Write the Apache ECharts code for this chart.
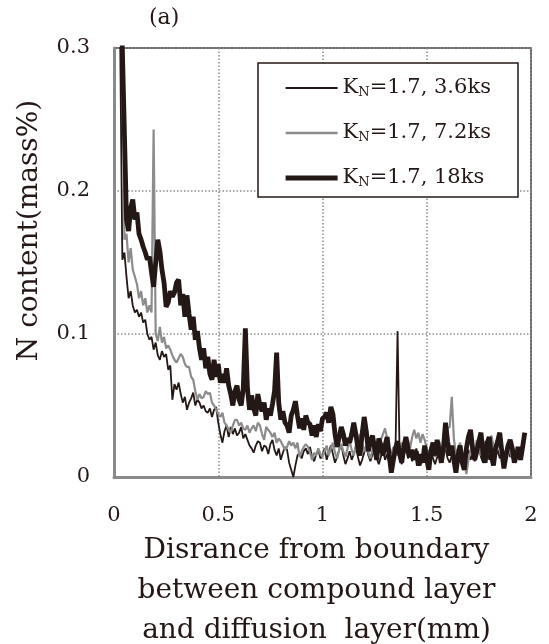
<!DOCTYPE html>
<html><head><meta charset="utf-8">
<script src="https://cdn.jsdelivr.net/npm/echarts@6/dist/echarts.min.js"></script>
<style>html,body{margin:0;padding:0;background:#fff}#c{width:549px;height:644px}</style>
</head><body><div id="c"></div><script>
const FONT = 'DejaVu Serif';
const distance = [
0.01,0.02,0.03,0.04,0.05,0.06,0.07,0.08,0.09,0.10,
0.11,0.12,0.13,0.14,0.15,0.16,0.17,0.18,0.19,0.20,
0.21,0.22,0.23,0.24,0.25,0.26,0.27,0.28,0.29,0.30,
0.31,0.32,0.33,0.34,0.35,0.36,0.37,0.38,0.39,0.40,
0.41,0.42,0.43,0.44,0.45,0.46,0.47,0.48,0.49,0.50,
0.51,0.52,0.53,0.54,0.55,0.56,0.57,0.58,0.59,0.60,
0.61,0.62,0.63,0.64,0.65,0.66,0.67,0.68,0.69,0.70,
0.71,0.72,0.73,0.74,0.75,0.76,0.77,0.78,0.79,0.80,
0.81,0.82,0.83,0.84,0.85,0.86,0.87,0.88,0.89,0.90,
0.91,0.92,0.93,0.94,0.95,0.96,0.97,0.98,0.99,1.00,
1.01,1.02,1.03,1.04,1.05,1.06,1.07,1.08,1.09,1.10,
1.11,1.12,1.13,1.14,1.15,1.16,1.17,1.18,1.19,1.20,
1.21,1.22,1.23,1.24,1.25,1.26,1.27,1.28,1.29,1.30,
1.31,1.32,1.33,1.34,1.35,1.36,1.37,1.38,1.39,1.40,
1.41,1.42,1.43,1.44,1.45,1.46,1.47,1.48,1.49,1.50,
1.51,1.52,1.53,1.54,1.55,1.56,1.57,1.58,1.59,1.60,
1.61,1.62,1.63,1.64,1.65,1.66,1.67,1.68,1.69,1.70,
1.71,1.72,1.73,1.74,1.75,1.76,1.77,1.78,1.79,1.80,
1.81,1.82,1.83,1.84,1.85,1.86,1.87,1.88,1.89,1.90,
1.91,1.92,1.93,1.94,1.95,1.96,1.97,1.98,1.99,2.00
];
// K_N=1.7, 3.6ks (thin black)
const n36ks = [
null,0.36,0.30,0.152,0.157,0.14,0.125,0.13,0.12,0.115,
0.117,0.112,0.115,0.108,0.11,0.1,0.096,0.098,0.089,0.094,
0.085,0.082,0.088,0.084,0.086,0.075,0.078,0.054,0.065,0.061,
0.066,0.058,0.052,0.056,0.047,0.052,0.055,0.059,0.05,0.054,
0.052,0.048,0.05,0.046,0.045,0.048,0.042,0.047,0.049,0.038,
0.03,0.024,0.032,0.036,0.028,0.035,0.03,0.034,0.029,0.031,
0.035,0.027,0.03,0.026,0.022,0.02,0.017,0.022,0.025,0.024,
0.018,0.022,0.021,0.016,0.023,0.026,0.019,0.015,0.02,0.012,
0.017,0.021,0.019,0.01,0.005,0.0,0.008,0.015,0.017,0.013,
0.018,0.02,0.016,0.021,0.014,0.011,0.016,0.019,0.013,0.015,
0.02,0.012,0.017,0.022,0.016,0.01,0.014,0.019,0.023,0.015,
0.009,0.013,0.018,0.012,0.016,0.021,0.014,0.008,0.012,0.017,
0.022,0.015,0.011,0.016,0.02,0.013,0.009,0.014,0.019,0.012,
0.016,0.01,0.004,0.012,0.018,0.102,0.014,0.009,0.015,0.02,
0.013,0.017,0.011,0.015,0.02,0.014,0.008,0.012,0.017,0.011,
0.016,0.021,0.013,0.009,0.014,0.019,0.012,0.016,0.02,0.013,
0.01,0.015,0.011,0.006,0.012,0.017,0.013,0.009,0.015,0.019,
0.012,0.016,0.011,0.015,0.02,0.014,0.01,0.015,0.018,0.012,
0.016,0.011,0.014,0.019,0.013,0.017,0.011,0.015,0.02,0.014,
0.018,0.012,0.016,0.02,0.015,0.018,null,null,null,null
];
// K_N=1.7, 7.2ks (gray)
const n72ks = [
null,null,null,0.36,0.166,0.17,0.15,0.16,0.145,0.14,
0.135,0.125,0.13,0.12,0.125,0.115,0.12,0.115,0.243,0.1,
0.095,0.105,0.094,0.098,0.09,0.092,0.089,0.085,0.082,0.08,
0.083,0.086,0.084,0.079,0.077,0.077,0.07,0.068,0.06,0.054,
0.058,0.055,0.056,0.06,0.058,0.059,0.052,0.05,0.047,0.044,
0.042,0.045,0.038,0.036,0.033,0.031,0.036,0.04,0.04,0.036,
0.038,0.034,0.033,0.036,0.031,0.034,0.036,0.032,0.038,0.036,
0.03,0.026,0.035,0.033,0.031,0.028,0.031,0.024,0.027,0.025,
0.022,0.019,0.021,0.025,0.022,0.024,0.02,0.024,0.014,0.018,
0.021,0.023,0.021,0.017,0.012,0.017,0.015,0.02,0.016,0.014,
0.018,0.022,0.015,0.02,0.024,0.017,0.013,0.019,0.023,0.018,
0.014,0.02,0.025,0.019,0.015,0.022,0.026,0.03,0.024,0.018,
0.022,0.017,0.013,0.019,0.024,0.018,0.021,0.026,0.03,0.034,
0.027,0.02,0.016,0.021,0.018,0.015,0.02,0.024,0.019,0.022,
0.026,0.02,0.028,0.033,0.027,0.031,0.024,0.03,0.026,0.02,
0.016,0.022,0.018,0.014,0.02,0.025,0.019,0.015,0.022,0.034,
0.035,0.056,0.027,0.016,0.02,0.024,0.016,0.01,0.002,0.012,
0.018,0.022,0.017,0.026,0.02,0.015,0.021,0.025,0.019,0.023,
0.029,0.022,0.016,0.02,0.024,0.018,0.014,0.019,0.023,0.017,
0.013,0.018,0.021,0.016,0.012,0.017,null,null,null,null
];
// K_N=1.7, 18ks (thick black)
const n18ks = [
null,null,0.36,0.30,0.24,0.18,0.172,0.188,0.194,0.18,
0.185,0.17,0.166,0.161,0.157,0.152,0.154,0.143,0.133,0.15,
0.166,0.158,0.145,0.136,0.119,0.122,0.13,0.126,0.129,0.136,
0.138,0.12,0.128,0.112,0.127,0.114,0.103,0.112,0.096,0.102,
0.09,0.082,0.09,0.076,0.084,0.072,0.068,0.082,0.07,0.079,
0.066,0.072,0.066,0.076,0.064,0.058,0.05,0.06,0.064,0.054,
0.05,0.062,0.104,0.062,0.047,0.057,0.048,0.043,0.058,0.05,
0.046,0.052,0.04,0.048,0.043,0.051,0.06,0.087,0.052,0.04,
0.046,0.038,0.036,0.031,0.043,0.047,0.053,0.043,0.034,0.041,
0.033,0.043,0.038,0.037,0.029,0.036,0.028,0.037,0.032,0.041,
0.042,0.045,0.038,0.049,0.044,0.03,0.021,0.028,0.035,0.03,
0.022,0.027,0.024,0.03,0.038,0.03,0.02,0.015,0.03,0.042,
0.032,0.018,0.025,0.029,0.02,0.012,0.027,0.022,0.015,0.022,
0.028,0.015,0.003,0.012,0.02,0.025,0.016,0.01,0.021,0.028,
0.02,0.014,0.019,0.012,0.018,0.008,0.016,0.01,0.022,0.012,
0.005,0.018,0.024,0.015,0.026,0.018,0.01,0.02,0.038,0.025,
0.015,0.022,0.012,0.003,0.015,0.022,0.01,0.005,0.02,0.028,
0.033,0.02,0.012,0.018,0.025,0.031,0.016,0.01,0.024,0.028,
0.015,0.008,0.02,0.025,0.031,0.018,0.006,0.015,0.022,0.026,
0.02,0.01,0.015,0.021,0.012,0.021,0.031,null,null,null
];
const seriesNames = ['KN=1.7, 3.6ks', 'KN=1.7, 7.2ks', 'KN=1.7, 18ks'];
const seriesValues = [n36ks, n72ks, n18ks];
const seriesColors = ['#231815', '#8c8c8c', '#231815'];
const seriesWidths = [1.8, 2.2, 4.8];
const xTitle = 'Disrance from boundary\nbetween compound layer\nand diffusion  layer(mm)';
const yTitle = 'N content(mass%)';
const panelLabel = '(a)';

const chart = echarts.init(document.getElementById('c'), null, {renderer: 'canvas'});
const pairs = v => distance.map((d, i) => [d, v[i]]);
chart.setOption({
  animation: false,
  backgroundColor: '#fff',
  textStyle: {fontFamily: FONT},
  grid: {left: 114, top: 48, width: 417, height: 429, show: true, containLabel: false,
    outerBoundsMode: 'none',
    borderColor: '#3a3a3a', borderWidth: 1.5, backgroundColor: 'transparent'},
  xAxis: {
    type: 'value', min: 0, max: 2, interval: 0.5,
    axisLine: {show: true, onZero: false, lineStyle: {color: '#8a8a8a', width: 3}},
    axisTick: {show: false},
    axisLabel: {color: '#231815', fontFamily: FONT, fontSize: 21, margin: 28, showMaxLabel: true, showMinLabel: true},
    splitLine: {show: true, lineStyle: {color: '#8c8c8c', width: 1.5, type: [1.5, 2]}},
    name: xTitle, nameLocation: 'middle', nameGap: 51,
    nameTextStyle: {color: '#231815', fontFamily: FONT, fontSize: 28, lineHeight: 40, padding: [0, 12, 0, 0]}
  },
  yAxis: {
    type: 'value', min: 0, max: 0.3, interval: 0.1,
    axisLine: {show: true, onZero: false, lineStyle: {color: '#8a8a8a', width: 3}},
    axisTick: {show: false},
    axisLabel: {color: '#231815', fontFamily: FONT, fontSize: 21, margin: 24},
    splitLine: {show: true, lineStyle: {color: '#8c8c8c', width: 1.5, type: [1.5, 2]}},
    name: yTitle, nameLocation: 'middle', nameGap: 70, nameRotate: 90,
    nameTextStyle: {color: '#231815', fontFamily: FONT, fontSize: 28, padding: [0, 0, 0, 64]}
  },
  legend: {
    left: 278, top: 72, orient: 'vertical', itemWidth: 52, itemHeight: 14, itemGap: 23,
    data: seriesNames.map((n, i) => ({
      name: n,
      itemStyle: {opacity: 0},
      lineStyle: {color: seriesColors[i], width: seriesWidths[i] + 0.4, opacity: 1}
    })),
    formatter: name => '{a|K}{s|N}{a|' + name.slice(2) + '}',
    textStyle: {
      color: '#231815', fontFamily: FONT,
      rich: {
        a: {fontSize: 21, fontFamily: FONT, color: '#231815', lineHeight: 26},
        s: {fontSize: 13, fontFamily: FONT, color: '#231815', lineHeight: 26, padding: [9, 0, 0, 0]}
      }
    }
  },
  graphic: [
    {type: 'rect', z: 3, shape: {x: 258, y: 63, width: 260, height: 134},
     style: {fill: '#fff', stroke: '#231815', lineWidth: 1.5}},
    {type: 'text', left: 149, top: 7, z: 5,
     style: {text: panelLabel, font: '22px "DejaVu Serif"', fill: '#231815'}}
  ],
  series: seriesNames.map((n, i) => ({
    name: n, type: 'line', data: pairs(seriesValues[i]), symbol: 'none', showSymbol: false,
    clip: true, connectNulls: false,
    lineStyle: {color: seriesColors[i], width: seriesWidths[i]},
    itemStyle: {color: seriesColors[i]}
  }))
});
</script></body></html>
